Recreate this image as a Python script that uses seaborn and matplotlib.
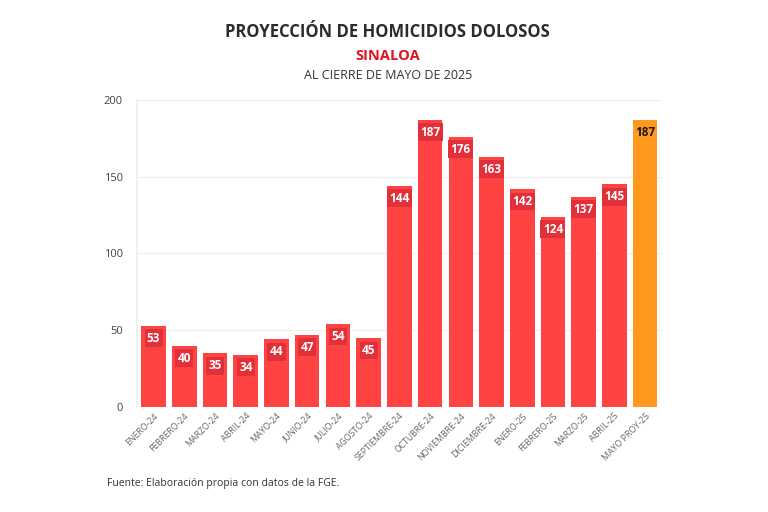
import pandas as pd
import matplotlib.pyplot as plt
import seaborn as sns

# ---------------------------- DATA ----------------------------
meses = ['ENERO-24', 'FEBRERO-24', 'MARZO-24', 'ABRIL-24', 'MAYO-24', 'JUNIO-24',
         'JULIO-24', 'AGOSTO-24', 'SEPTIEMBRE-24', 'OCTUBRE-24', 'NOVIEMBRE-24',
         'DICIEMBRE-24', 'ENERO-25', 'FEBRERO-25', 'MARZO-25', 'ABRIL-25', 'MAYO PROY-25']
homicidios = [53, 40, 35, 34, 44, 47, 54, 45, 144, 187, 176, 163, 142, 124, 137, 145, 187]
tipo = ['real'] * 16 + ['proyeccion']

df = pd.DataFrame({'mes': meses, 'homicidios': homicidios, 'tipo': tipo})

# ---------------------------- PLOT ----------------------------
sns.set_theme(style='white')
plt.rcParams['font.family'] = ['Open Sans', 'DejaVu Sans']

fig = plt.figure(figsize=(7.68, 5.12), dpi=100)
ax = fig.add_axes([0.178, 0.205, 0.684, 0.6])

colores = {'real': '#FF4343', 'proyeccion': '#FF9A1F'}
sns.barplot(data=df, x='mes', y='homicidios', hue='tipo', palette=colores,
            dodge=False, legend=False, width=0.8, saturation=1, linewidth=0, ax=ax)

ax.set_ylim(0, 200)
ax.set_xlim(-0.55, len(meses) - 0.45)
ax.set_yticks([0, 50, 100, 150, 200])
ax.yaxis.grid(True, color='#EEEEEE', linewidth=0.8)
ax.set_axisbelow(True)
ax.set_xlabel('')
ax.set_ylabel('')

for s in ['top', 'right', 'bottom']:
    ax.spines[s].set_visible(False)
ax.spines['left'].set_color('#EEEEEE')

ax.tick_params(axis='y', labelsize=8, colors='#444444', length=0, pad=10)
ax.tick_params(axis='x', labelsize=6.3, colors='#666666', length=0, pad=3)
plt.setp(ax.get_xticklabels(), rotation=45, ha='right', rotation_mode='anchor')

# Etiquetas de valor
for i, v in enumerate(homicidios):
    if tipo[i] == 'real':
        ax.annotate(str(v), (i, v), xytext=(0, -9), textcoords='offset points',
                    ha='center', va='center', fontsize=8.5, fontweight='bold', color='white',
                    bbox=dict(boxstyle='square,pad=0.2', fc='#E2303A', ec='none'))
    else:
        ax.annotate(str(v), (i, v), xytext=(0, -9), textcoords='offset points',
                    ha='center', va='center', fontsize=8.5, fontweight='bold', color='#1A1A1A')

# Titulos
fig.text(0.505, 0.937, 'PROYECCIÓN DE HOMICIDIOS DOLOSOS', ha='center', va='center',
         fontsize=12, fontweight='bold', color='#2B2B2B')
fig.text(0.505, 0.891, 'SINALOA', ha='center', va='center',
         fontsize=10.5, fontweight='bold', color='#E0141E')
fig.text(0.505, 0.852, 'AL CIERRE DE MAYO DE 2025', ha='center', va='center',
         fontsize=9, color='#333333')
fig.text(0.139, 0.055, 'Fuente: Elaboración propia con datos de la FGE.', ha='left', va='center',
         fontsize=7.5, color='#333333')

fig.savefig('out.png', dpi=100, facecolor='white')
